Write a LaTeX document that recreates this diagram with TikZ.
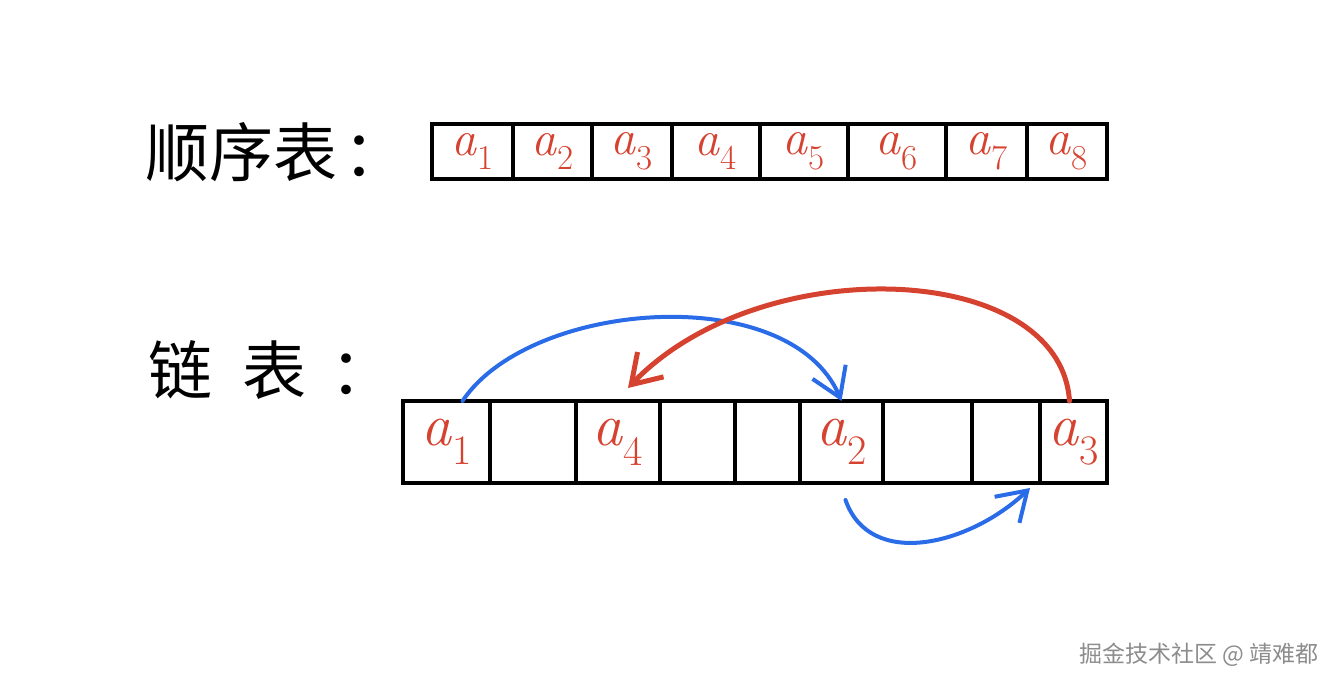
\documentclass[tikz,border=0pt]{standalone}
\usepackage{fontspec}
\usepackage{tikz}
\usetikzlibrary{arrows.meta}
\newfontfamily\cjk{Noto Sans CJK SC}
\definecolor{inkred}{RGB}{214,66,48}
\definecolor{inkblue}{RGB}{42,108,232}
\newcommand{\elem}[1]{\textit{a}\textsubscript{#1}}

\begin{document}
\begin{tikzpicture}[x=1pt,y=-1pt]
            \tikzstyle{cell}=[rectangle, draw = black, line width = 3.6pt, inner sep = 0pt, outer sep = 0pt, text = inkred]
            \tikzstyle{seq}=[cell, minimum height = 55pt, font = \fontsize{50}{50}\selectfont]
            \tikzstyle{lnk}=[cell, minimum height = 82pt, font = \fontsize{60}{60}\selectfont]
            \tikzstyle{title}=[anchor = west, inner sep = 0pt, font = \cjk\fontsize{64}{64}\selectfont]
            \tikzstyle{next}=[line width = 4pt, line cap = round, -{Straight Barb[length=28pt, width=36pt]}]
            \useasboundingbox (0,0) rectangle (1343,688);
            % titles
            \node[title] (T1) at (145,152){顺序表\hspace{6pt}：};
            \node[title] (T2) at (148,370){链\hspace{30pt}表\hspace{24pt}：};
            % sequential list
            \node[seq, minimum width = 81pt] (S1) at (472.5,151.5){\elem{1}};
            \node[seq, minimum width = 79pt] (S2) at (552.5,151.5){\elem{2}};
            \node[seq, minimum width = 80pt] (S3) at (632,151.5){\elem{3}};
            \node[seq, minimum width = 88pt] (S4) at (716,151.5){\elem{4}};
            \node[seq, minimum width = 88pt] (S5) at (804,151.5){\elem{5}};
            \node[seq, minimum width = 98pt] (S6) at (897,151.5){\elem{6}};
            \node[seq, minimum width = 81pt] (S7) at (986.5,151.5){\elem{7}};
            \node[seq, minimum width = 80pt] (S8) at (1067,151.5){\elem{8}};
            % linked list
            \node[lnk, minimum width = 87pt] (L1) at (446.5,442){\elem{1}};
            \node[lnk, minimum width = 86pt] (L2) at (533,442){};
            \node[lnk, minimum width = 84pt] (L3) at (618,442){\elem{4}};
            \node[lnk, minimum width = 75pt] (L4) at (697.5,442){};
            \node[lnk, minimum width = 65pt] (L5) at (767.5,442){};
            \node[lnk, minimum width = 83pt] (L6) at (841.5,442){\elem{2}};
            \node[lnk, minimum width = 89pt] (L7) at (927.5,442){};
            \node[lnk, minimum width = 68pt] (L8) at (1006,442){};
            \node[lnk, minimum width = 67pt] (L9) at (1073.5,442){\elem{3}};
            % pointers
            \draw[next, inkblue] ([xshift=16pt]L1.north) .. controls (530,300) and (790,280) .. (L6.north);
            \draw[next, inkred, line width = 5pt] ([xshift=-4pt]L9.north) .. controls (1060,260) and (760,250) .. ([xshift=10pt,yshift=13pt]L3.north);
            \draw[next, inkblue] ([xshift=4pt,yshift=-17pt]L6.south) .. controls (870,570) and (970,545) .. ([xshift=-10pt,yshift=-5pt]L9.south west);
            % watermark
            \node[anchor = east, text = black!45, font = \cjk\fontsize{23}{23}\selectfont] (W) at (1322,655){掘金技术社区 @ 靖难都};
        \end{tikzpicture}
\end{document}
